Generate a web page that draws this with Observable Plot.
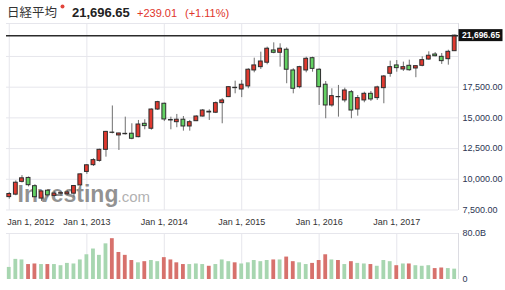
<!DOCTYPE html>
<html><head><meta charset="utf-8">
<script src="https://cdn.jsdelivr.net/npm/d3@7"></script>
<script src="https://cdn.jsdelivr.net/npm/@observablehq/plot@0.6"></script>
<style>
body{margin:0;background:#fff;font-family:"Liberation Sans",Arial,sans-serif;}
#wrap{position:relative;width:505px;height:290px;overflow:hidden;background:#fff;}
#wrap > svg{position:absolute;left:0;}
</style></head><body><div id="wrap"></div>
<script>
// ---- data ----
const title = "日経平均";
const lastClose = 21696.65;
const change = 239.01;
const changePct = 1.11;
const months = [
"2012-01","2012-02","2012-03","2012-04","2012-05","2012-06","2012-07","2012-08","2012-09","2012-10","2012-11","2012-12",
"2013-01","2013-02","2013-03","2013-04","2013-05","2013-06","2013-07","2013-08","2013-09","2013-10","2013-11","2013-12",
"2014-01","2014-02","2014-03","2014-04","2014-05","2014-06","2014-07","2014-08","2014-09","2014-10","2014-11","2014-12",
"2015-01","2015-02","2015-03","2015-04","2015-05","2015-06","2015-07","2015-08","2015-09","2015-10","2015-11","2015-12",
"2016-01","2016-02","2016-03","2016-04","2016-05","2016-06","2016-07","2016-08","2016-09","2016-10","2016-11","2016-12",
"2017-01","2017-02","2017-03","2017-04","2017-05","2017-06","2017-07","2017-08","2017-09","2017-10"];
const open = [
8550, 8750, 9790, 10110, 9440, 8430, 9070, 8650, 8830, 8780, 8830, 9500,
10600, 11150, 11500, 12400, 13800, 13570, 13670, 13710, 13430, 14520, 14115, 15680,
16150, 14830, 14650, 14850, 14300, 14730, 15110, 15500, 15420, 16200, 16690, 17420,
17310, 17560, 18860, 19130, 19490, 20490, 20300, 20550, 18860, 17500, 18860, 19860,
18920, 17700, 16010, 16700, 16420, 17090, 15680, 16420, 16960, 16610, 17420, 18590,
19270, 18940, 19240, 19020, 19240, 19750, 20160, 19970, 19780, 20430];
const high = [
8930, 9870, 10300, 10190, 9560, 9040, 9140, 9000, 9010, 9090, 9500, 10440,
11200, 11670, 12450, 13900, 15970, 13750, 15060, 14520, 14790, 14850, 15730, 16350,
16200, 15060, 15280, 15110, 14790, 15170, 15680, 15660, 16300, 16560, 17550, 17990,
18050, 19000, 19860, 20350, 20760, 21110, 21030, 20700, 19000, 19200, 19940, 19940,
19000, 17960, 17370, 17640, 17420, 17230, 16820, 17090, 17150, 17580, 18450, 19620,
19670, 19540, 19700, 19240, 19970, 20380, 20320, 20240, 20510, 21730];
const low = [
8380, 8660, 9700, 9380, 8500, 8200, 8500, 8560, 8600, 8680, 8500, 9400,
10400, 11045, 11400, 11800, 13700, 12350, 13600, 13220, 13380, 14030, 14000, 15600,
14700, 14030, 14200, 13920, 13920, 14700, 15070, 14790, 15350, 14520, 16650, 16960,
16650, 17370, 18670, 18940, 19320, 20220, 19130, 17780, 16960, 17370, 18670, 18720,
16010, 14930, 15870, 15060, 16230, 14930, 15140, 16230, 16340, 16420, 16150, 18310,
18720, 18780, 18800, 18270, 19160, 19700, 19970, 19350, 19290, 20430];
const close = [
8800, 9720, 10080, 9520, 8540, 9010, 8690, 8840, 8870, 8930, 9450, 10400,
11140, 11560, 12400, 13860, 13780, 13730, 13700, 13300, 14460, 14330, 15680, 16280,
14870, 14790, 14850, 14300, 14650, 15110, 15600, 15440, 16200, 16420, 17500, 17450,
17700, 18920, 19270, 19590, 20630, 20300, 20630, 18920, 17370, 19130, 19810, 18990,
17500, 16010, 16770, 16680, 17230, 15600, 16610, 16960, 16500, 17480, 18370, 19130,
19050, 19130, 18880, 19210, 19700, 20060, 20020, 19620, 20380, 21696.65];
// volume in billions
const volume = [
21, 35, 34, 26, 27, 26, 26, 26, 24, 28, 27, 34,
43, 53, 42, 62, 71, 47, 42, 33, 29, 31, 33, 31,
38, 34, 29, 26, 26, 27, 26, 23, 26, 34, 31, 29,
27, 29, 33, 31, 33, 34, 34, 39, 31, 29, 26, 28,
33, 43, 34, 33, 26, 31, 28, 27, 26, 23, 33, 31,
24, 27, 27, 24, 23, 24, 19, 20, 19, 18];
const volumeSide = [
"g","g","g","r","r","g","r","g","g","g","g","g",
"g","g","g","g","r","r","r","r","g","r","g","g",
"r","r","r","r","g","g","g","r","g","g","g","r",
"g","g","g","g","g","r","g","r","r","g","g","r",
"r","r","g","r","g","r","g","g","r","g","g","g",
"r","g","r","g","g","g","r","r","g","g"];
const priceGrid = [7500, 10000, 12500, 15000, 17500, 20000];
const priceLabels = [7500, 10000, 12500, 15000, 17500];
const yearTicks = ["2012-01-01","2013-01-01","2014-01-01","2015-01-01","2016-01-01","2017-01-01"];
const volumeTicks = [0, 80];

// ---- styles ----
const RED = "#e0392f", GREEN = "#63d163", OUTLINE = "#2e2e2e", WICK = "#6f6f6f";
const GRID = "#e6e6ec";
const VRED = "#d7716c", VGREEN = "#a7d6b0";
const AXIS_TXT = "#2c3553";
const FONT = "Liberation Sans, Arial, sans-serif";

const data = months.map((m, i) => ({date: new Date(m + "-01"), open: open[i], high: high[i], low: low[i], close: close[i], volume: volume[i], side: volumeSide[i]}));
const years = yearTicks.map(d => new Date(d));
const xDomain = [new Date("2011-12-19"), new Date("2017-10-19")];
const yDomain = [7459, 22684];
const bx1 = d => d3.utcDay.offset(d.date, -9);
const bx2 = d => d3.utcDay.offset(d.date, 9);
const fmt2 = d3.format(",.2f");
const yearFmt = d => `Jan 1, ${d.getUTCFullYear()}`;

const wrap = document.getElementById("wrap");

// ---- header ----
const hdr = d3.create("svg").attr("width", 505).attr("height", 23).style("top", "0px");
hdr.append("text").attr("x", 7).attr("y", 17).attr("font-family", "Noto Sans CJK JP").attr("font-size", 12.5).attr("fill", "#333").text(title);
hdr.append("circle").attr("cx", 62.5).attr("cy", 6.5).attr("r", 2).attr("fill", "#e2453c");
hdr.append("text").attr("x", 72).attr("y", 17).attr("font-family", FONT).attr("font-weight", "bold").attr("font-size", 13).attr("fill", "#222").text(fmt2(lastClose));
hdr.append("text").attr("x", 137).attr("y", 17).attr("font-family", FONT).attr("font-size", 11).attr("fill", "#e0352b").text("+" + change.toFixed(2));
hdr.append("text").attr("x", 185).attr("y", 17).attr("font-family", FONT).attr("font-size", 11).attr("fill", "#e0352b").text(`(+${changePct.toFixed(2)}%)`);
wrap.appendChild(hdr.node());

// ---- price panel ----
const price = Plot.plot({
  width: 505, height: 207,
  marginLeft: 6, marginRight: 47, marginTop: 0, marginBottom: 20,
  x: {type: "utc", domain: xDomain, label: null},
  y: {domain: yDomain, label: null},
  style: {fontFamily: FONT, background: "transparent", overflow: "visible"},
  marks: [
    Plot.ruleY(priceGrid, {stroke: GRID}),
    Plot.ruleX(years, {stroke: GRID}),
    Plot.ruleY([yDomain[1]], {stroke: GRID}),
    Plot.ruleX([xDomain[1]], {stroke: "#dcdce2"}),
    Plot.text(["Investing"], {frameAnchor: "bottom-left", dx: 11, dy: -9, lineAnchor: "bottom", textAnchor: "start", fontSize: 23, fontWeight: "bold", fill: "#7e7e7e", fillOpacity: 0.85, letterSpacing: "-0.8px"}),
    Plot.text([".com"], {frameAnchor: "bottom-left", dx: 111, dy: -9, lineAnchor: "bottom", textAnchor: "start", fontSize: 15, fill: "#a8a8a8", fillOpacity: 0.9}),
    Plot.ruleX(data, {x: "date", y1: "low", y2: "high", stroke: WICK}),
    Plot.rect(data, {filter: d => d.close >= d.open, x1: bx1, x2: bx2, y1: "open", y2: "close", fill: RED, stroke: OUTLINE, strokeWidth: 1}),
    Plot.rect(data, {filter: d => d.close < d.open, x1: bx1, x2: bx2, y1: "open", y2: "close", fill: GREEN, stroke: OUTLINE, strokeWidth: 1}),
    Plot.ruleY([lastClose], {stroke: "#2b2b2b", strokeWidth: 1.5}),
    Plot.axisY(priceLabels, {anchor: "right", label: null, tickSize: 0, tickPadding: 4, tickFormat: fmt2, fontSize: 9, fill: AXIS_TXT, letterSpacing: "-0.4px"}),
    Plot.axisX(years.slice(0, 1), {anchor: "bottom", label: null, tickSize: 0, tickPadding: 8.5, textAnchor: "start", dx: -2, tickFormat: yearFmt, fontSize: 9, fill: "#333"}),
    Plot.axisX(years.slice(1), {anchor: "bottom", label: null, tickSize: 0, tickPadding: 8.5, tickFormat: yearFmt, fontSize: 9, fill: "#333"}),
    Plot.text([lastClose], {y: d => d, frameAnchor: "right", dx: 22.5, textAnchor: "middle", text: d => fmt2(d), fill: "#fff", fontWeight: "bold", fontSize: 8.5, letterSpacing: "-0.3px"})
  ]
});
price.style.top = "23px";
price.style.position = "absolute";
{
  const yy = price.scale("y").apply(lastClose);
  const groups = price.querySelectorAll('g[aria-label="text"]');
  const lastG = groups[groups.length - 1];
  const rect = document.createElementNS("http://www.w3.org/2000/svg", "rect");
  rect.setAttribute("x", 458.5); rect.setAttribute("width", 44);
  rect.setAttribute("y", yy - 6); rect.setAttribute("height", 12);
  rect.setAttribute("fill", "#111");
  lastG.parentNode.insertBefore(rect, lastG);
}
wrap.appendChild(price);

// ---- volume panel ----
const vol = Plot.plot({
  width: 505, height: 64,
  marginLeft: 6, marginRight: 47, marginTop: 7, marginBottom: 11,
  x: {type: "utc", domain: xDomain, axis: null},
  y: {domain: [0, 80], label: null},
  style: {fontFamily: FONT, background: "transparent", overflow: "visible"},
  marks: [
    Plot.ruleX(years, {stroke: GRID}),
    Plot.ruleY([80], {stroke: GRID}),
    Plot.ruleX([xDomain[1]], {stroke: "#dcdce2"}),
    Plot.rect(data, {x1: bx1, x2: bx2, y1: 0, y2: "volume", fill: d => d.side === "r" ? VRED : VGREEN}),
    Plot.axisY(volumeTicks, {anchor: "right", label: null, tickSize: 0, tickPadding: 4, tickFormat: d => d === 0 ? "0" : d.toFixed(1) + "B", fontSize: 9, fill: AXIS_TXT})
  ]
});
vol.style.top = "226px";
vol.style.position = "absolute";
wrap.appendChild(vol);
</script></body></html>
